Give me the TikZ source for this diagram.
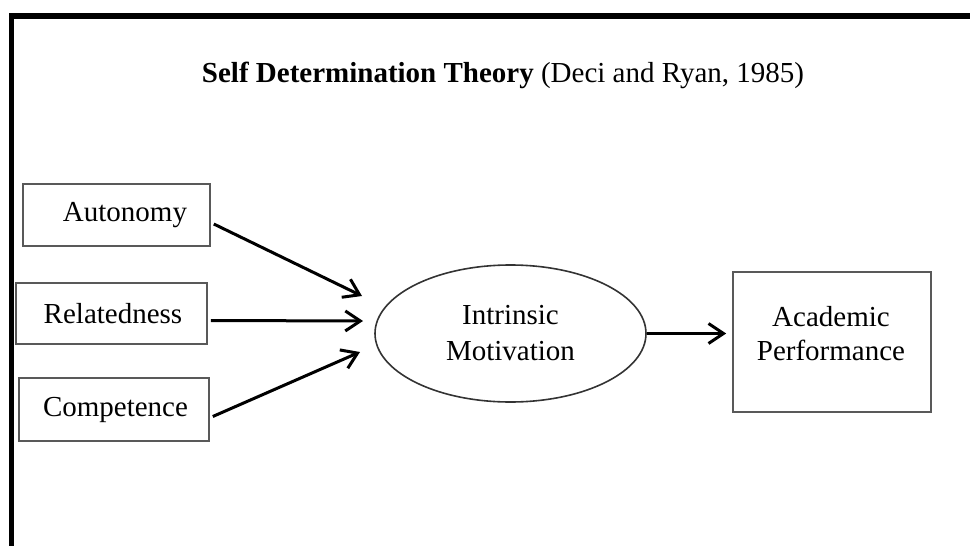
\documentclass[tikz,border=0pt]{standalone}
\usepackage{fontspec}
\setmainfont{Liberation Serif}
\usetikzlibrary{arrows.meta,shapes.geometric}
\begin{document}
\begin{tikzpicture}[x=1pt,y=-1pt,
  fnt/.style={font=\fontsize{29}{34}\selectfont},
  box/.style={draw=black!65, line width=1.6pt, inner sep=0pt, fnt, align=center},
  ell/.style={draw=black!80, line width=1.6pt, ellipse, inner sep=0pt, fnt, align=center},
  arr/.style={line width=3pt, -{Straight Barb[length=15pt,width=20pt]}}]
\useasboundingbox (0,0) rectangle (970,546);
% frame
\draw[line width=5.5pt, line join=miter] (11.5,546) -- (11.5,16) -- (970,16);
% title
\node[fnt, anchor=base, inner sep=0pt] (title) at (503,82) {\textbf{Self Determination Theory} (Deci and Ryan, 1985)};
% boxes
\node[box, minimum width=187pt, minimum height=62pt] (aut) at (116.5,215) {\hspace*{17pt}Autonomy};
\node[box, minimum width=191pt, minimum height=61pt] (rel) at (111.5,313.5) {\hspace*{3pt}Relatedness};
\node[box, minimum width=190pt, minimum height=63pt] (com) at (114,409.5) {\hspace*{3pt}Competence};
\node[ell, minimum width=271pt, minimum height=137pt] (im) at (510.5,333.5) {\raisebox{2pt}{Intrinsic}\\Motivation};
\node[box, minimum width=198pt, minimum height=140pt] (ap) at (832,342) {};
\node[fnt, align=center, inner sep=0pt] (apt) at (831,334) {Academic\\Performance};
% arrow targets
\coordinate (ea) at (362,296);
\coordinate (er) at (363,321);
\coordinate (ec) at (360,352);
% arrows
\draw[arr] ([xshift=3pt,yshift=-9pt]aut.east) -- (ea);
\draw[arr] ([xshift=3pt,yshift=-7pt]rel.east) -- (er);
\draw[arr] ([xshift=3pt,yshift=-7pt]com.east) -- (ec);
\draw[arr, shorten >=6pt] (im.east) -- (im.east -| ap.west);
\end{tikzpicture}
\end{document}
